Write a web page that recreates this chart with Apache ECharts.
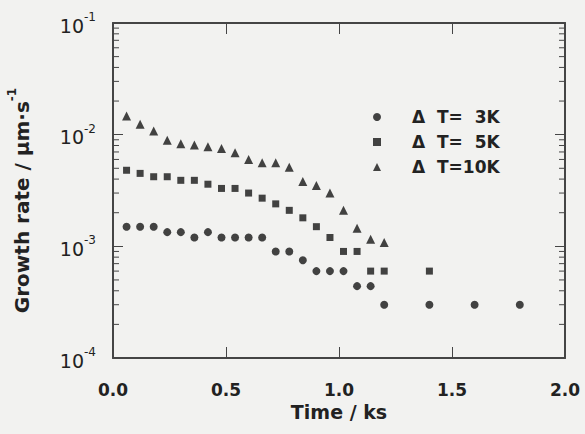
<!DOCTYPE html>
<html>
<head>
<meta charset="utf-8">
<script src="https://cdn.jsdelivr.net/npm/echarts@6/dist/echarts.min.js"></script>
<style>
html,body{margin:0;padding:0;background:#f2f2f0;}
#chart{width:585px;height:434px;}
</style>
</head>
<body>
<div id="chart"></div>
<script>
// ---- data ----
const timesMain = [0.06,0.12,0.18,0.24,0.30,0.36,0.42,0.48,0.54,0.60,0.66,0.72,0.78,0.84,0.90,0.96,1.02,1.08,1.14,1.20];
const times3K = timesMain.concat([1.4,1.6,1.8]);
const times5K = timesMain.concat([1.4]);
const times10K = timesMain.slice();
const rate3K = [0.0015,0.0015,0.0015,0.00134,0.00134,0.0012,0.00134,0.0012,0.0012,0.0012,0.0012,0.0009,0.0009,0.00075,0.0006,0.0006,0.0006,0.00044,0.00044,0.0003,0.0003,0.0003,0.0003];
const rate5K = [0.0048,0.0045,0.0042,0.0042,0.0039,0.0039,0.0036,0.0033,0.0033,0.0030,0.0027,0.0024,0.0021,0.0018,0.0015,0.0012,0.0009,0.0009,0.0006,0.0006,0.0006];
const rate10K = [0.0147,0.0124,0.0108,0.0089,0.0083,0.0081,0.0078,0.0075,0.0069,0.0060,0.0056,0.0056,0.0051,0.0038,0.0035,0.0030,0.0021,0.00145,0.00116,0.00108];
const seriesNames = ['\u0394  T=  3K','\u0394  T=  5K','\u0394  T=10K'];
const yMinorTicks = [];
[1e-4,1e-3,1e-2].forEach(function(d){ for (let k=2;k<=9;k++) yMinorTicks.push(+(d*k).toPrecision(3)); });

function pairs(xs, ys){ return xs.map(function(x,i){ return [x, ys[i]]; }); }

const FRAME_COLOR = '#454545';
const INK = '#151515';
const FAM = 'DejaVu Sans';

function yAx(pos, extra){
  const a = {
    type:'log', logBase:10, min:1e-4, max:1e-1, interval:1, position:pos,
    axisLine:{show:true, onZero:false, lineStyle:{color:FRAME_COLOR, width:2}},
    axisTick:{show:true, inside:true, length:10, lineStyle:{color:FRAME_COLOR, width:1}},
    axisLabel:{show:false},
    splitLine:{show:false}, minorTick:{show:false}, minorSplitLine:{show:false}
  };
  return Object.assign(a, extra||{});
}

const chart = echarts.init(document.getElementById('chart'), null, {renderer:'svg'});
chart.setOption({
  backgroundColor:'#f2f2f0',
  animation:false,
  grid:{left:113, right:20, top:23, bottom:76, containLabel:false, outerBoundsMode:'none'},
  legend:{
    orient:'vertical', left:373, top:108, padding:0,
    itemWidth:8, itemHeight:8, itemGap:7,
    data:seriesNames,
    textStyle:{fontFamily:FAM, fontWeight:'bold', fontSize:17, color:'#222', lineHeight:18, padding:[0,0,0,26]}
  },
  xAxis:[
    {type:'value', min:0, max:2, interval:0.5, position:'bottom',
     axisLine:{show:true, onZero:false, lineStyle:{color:FRAME_COLOR, width:2}},
     axisTick:{show:true, inside:true, length:11, lineStyle:{color:FRAME_COLOR, width:1}},
     axisLabel:{margin:23, color:'#222', fontFamily:FAM, fontWeight:'bold', fontSize:17,
       formatter:function(v){ return v.toFixed(1); }},
     splitLine:{show:false},
     name:'Time / ks', nameLocation:'middle', nameGap:42,
     nameTextStyle:{fontFamily:FAM, fontWeight:'bold', fontSize:19, color:'#222'}},
    {type:'value', min:0, max:2, interval:0.5, position:'top',
     axisLine:{show:true, onZero:false, lineStyle:{color:FRAME_COLOR, width:2}},
     axisTick:{show:true, inside:true, length:11, lineStyle:{color:FRAME_COLOR, width:1}},
     axisLabel:{show:false}, splitLine:{show:false}}
  ],
  yAxis:[
    yAx('left', {
      axisLabel:{show:true, margin:17, color:'#222',
        formatter:function(v){ return '{b|10}{s|' + Math.round(Math.log10(v)) + '}'; },
        rich:{b:{fontFamily:FAM, fontSize:19, lineHeight:24, color:'#222', verticalAlign:'bottom'},
              s:{fontFamily:FAM, fontSize:12, lineHeight:14, color:'#222', verticalAlign:'top'}}},
      name:'{t|Growth rate / \u03bcm\u00b7s}{s|-1}', nameLocation:'middle', nameGap:81,
      nameTextStyle:{padding:[0,20,0,0],
        rich:{t:{fontFamily:FAM, fontWeight:'bold', fontSize:20, lineHeight:26, color:'#222', verticalAlign:'bottom'},
              s:{fontFamily:FAM, fontWeight:'bold', fontSize:12, lineHeight:14, color:'#222', verticalAlign:'top'}}}
    }),
    yAx('right')
  ],
  series:[
    {type:'custom', xAxisIndex:0, yAxisIndex:0, silent:true, z:1,
     data:yMinorTicks.map(function(v){ return [0, v]; }),
     renderItem:function(params, api){
       const p = api.coord([0, api.value(1)]);
       const q = api.coord([2, api.value(1)]);
       const st = {stroke:FRAME_COLOR, lineWidth:1};
       return {type:'group', children:[
         {type:'line', shape:{x1:p[0], y1:p[1], x2:p[0]+6, y2:p[1]}, style:st},
         {type:'line', shape:{x1:q[0]-6, y1:q[1], x2:q[0], y2:q[1]}, style:st}
       ]};
     }},
    {name:seriesNames[0], type:'scatter', symbol:'circle', symbolSize:8, xAxisIndex:0, yAxisIndex:0,
     itemStyle:{color:INK}, data:pairs(times3K, rate3K)},
    {name:seriesNames[1], type:'scatter', symbol:'rect', symbolSize:7, xAxisIndex:0, yAxisIndex:0,
     itemStyle:{color:INK}, data:pairs(times5K, rate5K)},
    {name:seriesNames[2], type:'scatter', symbol:'triangle', symbolSize:9, xAxisIndex:0, yAxisIndex:0,
     itemStyle:{color:INK}, data:pairs(times10K, rate10K)}
  ]
});
</script>
</body>
</html>
